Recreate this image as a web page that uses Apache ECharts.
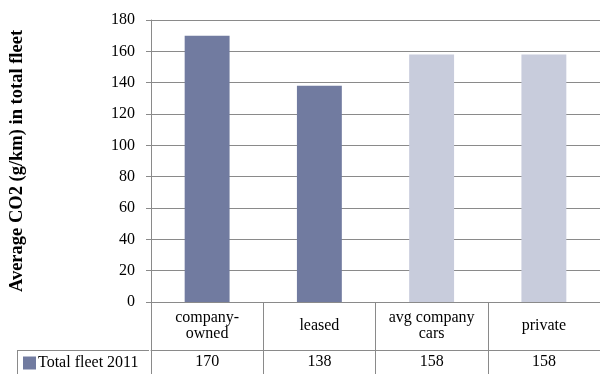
<!DOCTYPE html>
<html>
<head>
<meta charset="utf-8">
<script src="https://cdn.jsdelivr.net/npm/echarts@6/dist/echarts.min.js"></script>
<style>
html,body{margin:0;padding:0;background:#fff;}
#chart{width:600px;height:374px;}
</style>
</head>
<body>
<div id="chart"></div>
<script>
const categories = ['company-\nowned', 'leased', 'avg company\ncars', 'private'];
const values = [170, 138, 158, 158];
const seriesName = 'Total fleet 2011';
const yTicks = { min: 0, max: 180, interval: 20 };

const DARK = '#717ba0';
const LIGHT = '#c8ccdc';
const FONT = 'Liberation Serif';
const GRIDC = '#8a8a8a';

const chart = echarts.init(document.getElementById('chart'), null, { renderer: 'canvas' });

const option = {
  animation: false,
  color: [DARK],
  grid: { left: 149, top: 20, width: 452, bottom: 72, containLabel: false },
  legend: {
    data: [{ name: seriesName, icon: 'rect' }],
    left: 23, top: 355, padding: 0,
    itemWidth: 13, itemHeight: 13, itemGap: 0,
    textStyle: { fontFamily: FONT, fontSize: 16, color: '#000', padding: [0, 0, 0, -3] },
    selectedMode: false
  },
  xAxis: [
    {
      type: 'category', data: categories, position: 'bottom',
      axisLine: { show: true, lineStyle: { color: GRIDC, width: 1 } },
      axisTick: { show: true, length: 72, lineStyle: { color: GRIDC } },
      axisLabel: { fontFamily: FONT, fontSize: 16, color: '#000', lineHeight: 16, verticalAlign: 'middle', margin: 24 },
      splitLine: { show: false }
    },
    {
      type: 'category', data: categories, position: 'bottom', offset: 48,
      axisLine: { show: true, lineStyle: { color: GRIDC, width: 1 } },
      axisTick: { show: false },
      axisLabel: {
        fontFamily: FONT, fontSize: 16, color: '#000', verticalAlign: 'middle', margin: 12,
        formatter: (v, i) => String(values[i])
      },
      splitLine: { show: false }
    }
  ],
  yAxis: {
    type: 'value', min: yTicks.min, max: yTicks.max, interval: yTicks.interval,
    name: 'Average CO2 (g/km) in total fleet',
    nameLocation: 'middle', nameGap: 124, nameRotate: 90,
    nameTextStyle: { fontFamily: FONT, fontSize: 18.5, fontWeight: 'bold', color: '#000' },
    axisLine: { show: true, lineStyle: { color: GRIDC } },
    axisTick: { show: true, length: 5, lineStyle: { color: GRIDC } },
    axisLabel: { fontFamily: FONT, fontSize: 16, color: '#000', margin: 16 },
    splitLine: { show: true, lineStyle: { color: GRIDC, width: 1 } }
  },
  series: [{
    name: seriesName, type: 'bar', xAxisIndex: 0, barWidth: '40%',
    data: values.map((v, i) => ({ value: v, itemStyle: { color: i < 2 ? DARK : LIGHT } }))
  }],
  graphic: []
};

chart.setOption(option);

// table frame for the legend cell, positioned from the axis pixels
const yTable = chart.convertToPixel({ yAxisIndex: 0 }, 0) + 48;
const xLeft = 149;
chart.setOption({
  graphic: [
    { type: 'line', shape: { x1: 17.5, y1: yTable + 0.5, x2: xLeft, y2: yTable + 0.5 }, style: { stroke: GRIDC, lineWidth: 1 } },
    { type: 'line', shape: { x1: 17.5, y1: yTable, x2: 17.5, y2: 374 }, style: { stroke: GRIDC, lineWidth: 1 } }
  ]
});
</script>
</body>
</html>
